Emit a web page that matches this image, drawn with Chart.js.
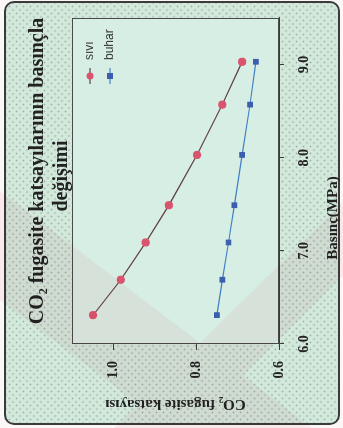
<!DOCTYPE html>
<html>
<head>
<meta charset="utf-8">
<script src="https://cdn.jsdelivr.net/npm/chart.js@4.4.1/dist/chart.umd.min.js"></script>
<style>
  html, body { margin: 0; padding: 0; }
  body { width: 343px; height: 428px; position: relative; overflow: hidden; background: #fbf7f7; }
  .frame {
    position: absolute; left: 4px; top: 1px; width: 336px; height: 424px;
    box-sizing: border-box; border: 2px solid #3b3b3b; border-radius: 10px;
    background-color: #d2e9dc;
    background-image: radial-gradient(circle, #9db3a6 0.7px, transparent 1.2px),
                      radial-gradient(circle, #9db3a6 0.7px, transparent 1.2px);
    background-size: 7px 7px; background-position: 0 0, 3.5px 3.5px;
  }
  /* chart is drawn upright, then turned a quarter left like the scan */
  .rot { position: absolute; left: 0; top: 0; width: 428px; height: 343px;
         transform-origin: 0 0; transform: translate(0, 428px) rotate(-90deg); }
  .wm { position: absolute; left: 0; top: 0; pointer-events: none; mix-blend-mode: multiply; }
</style>
</head>
<body>
<div class="frame"></div>
<div class="rot"><canvas id="chart" width="428" height="343"></canvas></div>
<svg class="wm" width="343" height="428">
  <g fill="#efa6b2" opacity="0.16">
    <polygon points="0,191 312,428 170,428 0,300"/>
    <polygon points="343,202 114,428 190,428 343,275"/>
  </g>
</svg>
<script>
const pressure = [6.31, 6.69, 7.09, 7.49, 8.03, 8.57, 9.03];
const sivi = [1.049, 0.982, 0.922, 0.866, 0.798, 0.737, 0.689];
const buhar = [0.750, 0.737, 0.722, 0.708, 0.689, 0.670, 0.656];
const xTicks = [6, 7, 8, 9];
const yTicks = [0.6, 0.8, 1.0];
const seriesNames = ['sıvı', 'buhar'];
const titleLines = ['CO₂ fugasite katsayılarının basınçla', 'değişimi'];
const xTitle = 'Basınç(MPa)';
const yTitle = 'CO₂ fugasite katsayısı';

const SERIF = '"Liberation Serif", "Times New Roman", serif';
const INK = '#222';

// plot fill, frame, titles and legend in the places the scan has them
const decor = {
  id: 'decor',
  beforeDraw(chart) {
    const { ctx, chartArea: a } = chart;
    ctx.save();
    ctx.fillStyle = '#d7eee4';
    ctx.fillRect(a.left, a.top, a.right - a.left, a.bottom - a.top);
    ctx.restore();
  },
  afterDraw(chart) {
    const { ctx, chartArea: a } = chart;
    ctx.save();
    ctx.strokeStyle = '#4a4a4a';
    ctx.lineWidth = 1;
    ctx.strokeRect(Math.round(a.left) + 0.5, Math.round(a.top) + 0.5,
      Math.round(a.right - a.left) - 1, Math.round(a.bottom - a.top) - 1);

    ctx.fillStyle = INK;
    ctx.textAlign = 'center';
    ctx.textBaseline = 'alphabetic';
    ctx.font = 'bold 20px ' + SERIF;
    ctx.fillText(titleLines[0], 257, 43);
    ctx.fillText(titleLines[1], 252, 67);

    ctx.font = 'bold 15px ' + SERIF;
    ctx.fillText(xTitle, 210, 337);

    // legend, stacked in the top right corner of the plot
    chart.data.datasets.forEach((ds, i) => {
      const y = 90 + i * 20;
      ctx.strokeStyle = ds.borderColor;
      ctx.lineWidth = 1.2;
      ctx.beginPath();
      ctx.moveTo(344, y);
      ctx.lineTo(360, y);
      ctx.stroke();
      ctx.fillStyle = ds.pointBackgroundColor;
      if (ds.pointStyle === 'rect') {
        ctx.fillRect(352 - 3, y - 3, 6, 6);
      } else {
        ctx.beginPath();
        ctx.arc(352, y, 3.5, 0, Math.PI * 2);
        ctx.fill();
      }
      ctx.fillStyle = '#333';
      ctx.textAlign = 'left';
      ctx.textBaseline = 'middle';
      ctx.font = '12px "Liberation Sans", Arial, sans-serif';
      ctx.fillText(ds.label, 368, y);
    });
    ctx.restore();
  }
};

const tickFont = { family: SERIF, weight: 'bold', size: 14 };

new Chart(document.getElementById('chart'), {
  type: 'line',
  data: {
    datasets: [
      {
        label: seriesNames[0],
        data: pressure.map((p, i) => ({ x: p, y: sivi[i] })),
        borderColor: '#5e4040',
        borderWidth: 1.2,
        pointStyle: 'circle',
        pointRadius: 3.5,
        pointBackgroundColor: '#d9546f',
        pointBorderColor: '#d9546f',
        tension: 0
      },
      {
        label: seriesNames[1],
        data: pressure.map((p, i) => ({ x: p, y: buhar[i] })),
        borderColor: '#3f7fc4',
        borderWidth: 1.2,
        pointStyle: 'rect',
        pointRadius: 3.2,
        pointBackgroundColor: '#3b5fae',
        pointBorderColor: '#3b5fae',
        tension: 0
      }
    ]
  },
  options: {
    responsive: false,
    animation: false,
    devicePixelRatio: 1,
    layout: { padding: { top: 72, right: 18, left: 0, bottom: 0 } },
    plugins: { legend: { display: false }, title: { display: false }, tooltip: { enabled: false } },
    scales: {
      x: {
        type: 'linear', min: 6, max: 9.5,
        afterBuildTicks: s => { s.ticks = xTicks.map(v => ({ value: v })); },
        afterFit: s => { s.height = 64; },
        grid: { drawOnChartArea: false, tickLength: 5, color: '#3c3c3c' },
        border: { color: '#3c3c3c' },
        ticks: { font: tickFont, color: INK, padding: 12, maxRotation: 0, callback: v => v.toFixed(1) }
      },
      y: {
        min: 0.6, max: 1.1,
        afterBuildTicks: s => { s.ticks = yTicks.map(v => ({ value: v })); },
        afterFit: s => { s.width = 84; },
        grid: { drawOnChartArea: false, tickLength: 6, color: '#3c3c3c' },
        border: { color: '#3c3c3c' },
        ticks: { font: tickFont, color: INK, padding: 11, callback: v => v.toFixed(1) },
        title: { display: true, text: yTitle, color: INK, font: { family: SERIF, weight: 'bold', size: 15 }, padding: { top: 15, bottom: 0 } }
      }
    }
  },
  plugins: [decor]
});
</script>
</body>
</html>
